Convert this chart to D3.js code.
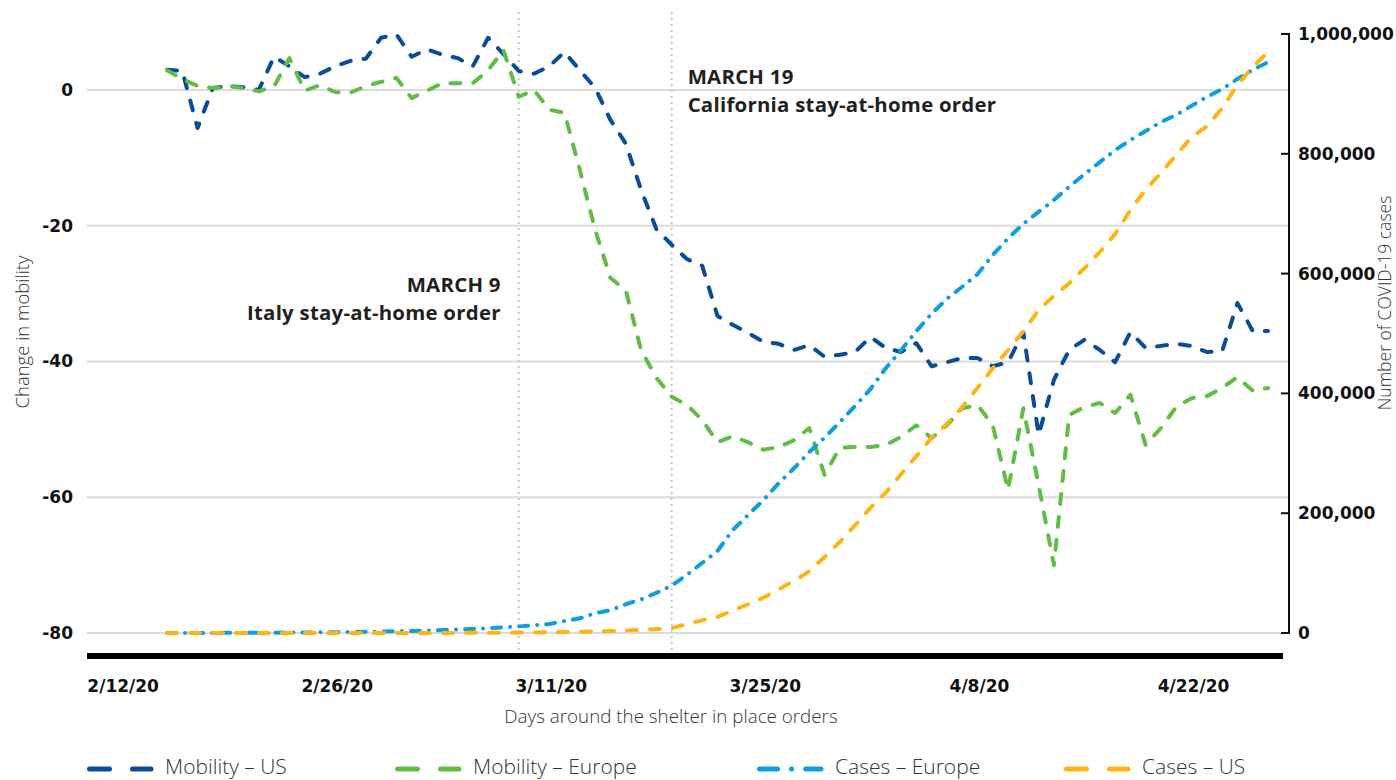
<!DOCTYPE html>
<html><head><meta charset="utf-8">
<script src="https://cdn.jsdelivr.net/npm/d3@7"></script>
<style>
html,body{margin:0;padding:0;background:#fff;}
svg{display:block;}
</style></head>
<body>
<svg id="chart" width="1396" height="780"></svg>
<script>
// ---------- data ----------
const startDate = "2020-02-15";
const endDate = "2020-04-27";
const xTickDates = ["2020-02-12","2020-02-26","2020-03-11","2020-03-25","2020-04-08","2020-04-22"];
const xTickLabels = ["2/12/20","2/26/20","3/11/20","3/25/20","4/8/20","4/22/20"];
const leftTicks = [0,-20,-40,-60,-80];
const rightTicks = [0,200000,400000,600000,800000,1000000];
const rightTickLabels = ["0","200,000","400,000","600,000","800,000","1,000,000"];
const eventDates = ["2020-03-09","2020-03-19"];
const eventTitles = ["MARCH 9","MARCH 19"];
const eventTexts = ["Italy stay-at-home order","California stay-at-home order"];
const seriesNames = ["Mobility \u2013 US","Mobility \u2013 Europe","Cases \u2013 Europe","Cases \u2013 US"];

const mobilityUS = [3.0,2.8,-5.6,0.3,0.6,0.4,0.0,4.9,3.5,1.9,
  2.4,3.5,4.3,4.6,7.7,8.2,4.9,6.0,5.2,4.7,
  3.5,7.7,5.3,2.8,2.4,3.5,5.6,2.9,0.3,-4.4,
  -7.9,-14.7,-20.5,-22.8,-24.9,-25.9,-33.3,-34.6,-35.8,-37.1,
  -37.4,-38.3,-37.6,-39.3,-39.0,-38.6,-36.4,-38.0,-38.6,-37.3,
  -40.7,-40.1,-39.5,-39.5,-40.7,-40.1,-35.7,-50.8,-42.7,-38.3,
  -36.8,-38.3,-40.1,-35.7,-38.0,-37.7,-37.4,-37.7,-38.6,-38.5,
  -31.4,-35.5,-35.5];

const mobilityEurope = [2.9,1.6,0.6,0.3,0.6,0.3,-0.2,0.5,4.7,-0.1,
  0.7,-0.3,-0.4,0.6,1.2,1.8,-1.2,-0.1,1.0,1.0,
  1.0,2.9,5.9,-1.0,0.0,-2.9,-3.4,-11.8,-20.6,-27.7,
  -29.5,-38.3,-42.4,-45.2,-46.4,-48.6,-51.9,-51.0,-51.9,-53.0,
  -52.6,-51.6,-49.8,-56.7,-52.7,-52.6,-52.6,-52.3,-51.1,-49.4,
  -51.3,-49.4,-46.9,-46.4,-49.4,-58.9,-46.9,-58.2,-70.0,-47.9,
  -46.7,-46.1,-47.6,-44.9,-52.3,-49.8,-46.7,-45.4,-45.1,-43.9,
  -42.3,-44.3,-43.9];

const casesEurope = [200,200,200,200,250,300,400,500,700,900,
  1100,1300,1600,2000,2500,3000,3500,4200,5000,5800,
  6800,8000,9500,11000,13000,15000,20000,24500,33000,38000,
  48000,56000,67000,79000,97000,117000,137000,172000,197000,222000,
  250000,275000,302000,326000,352000,379000,407000,442000,472000,504000,
  533000,558000,578000,599000,631000,659000,683000,703000,723000,745000,
  766000,786000,806000,823000,838000,853000,865000,880000,895000,908000,
  925000,940000,953000];

const casesUS = [15,15,15,15,15,15,15,15,20,25,
  30,40,50,60,70,75,90,120,170,220,
  300,400,500,700,900,1200,1600,2100,2700,3300,
  4200,5300,6500,8000,15000,21000,27000,37500,48000,59000,
  73000,87000,103000,127000,152000,180000,209000,234000,265000,295000,
  326000,349000,377000,409000,442000,472000,504000,539000,563000,584000,
  609000,636000,666000,706000,740000,768000,798000,828000,846000,876000,
  915000,945000,970000];

// ---------- setup ----------
const parse = d3.utcParse("%Y-%m-%d");
const dates = d3.utcDay.range(parse(startDate), d3.utcDay.offset(parse(endDate), 1));

const svg = d3.select("#chart");
const plotL = 87, plotR = 1289, plotTop = 34, plotBottom = 633;

const x = d3.scaleUtc().domain([parse(startDate), parse(endDate)]).range([167, 1268]);
const yL = d3.scaleLinear().domain([-80, 8.25]).range([plotBottom, plotTop]);
const yR = d3.scaleLinear().domain([0, 1000000]).range([plotBottom, plotTop]);

const boldFont = "'DejaVu Sans', Verdana, sans-serif";
const textFont = "'Open Sans', 'Noto Sans', sans-serif";

// gridlines
svg.append("g").selectAll("line").data(leftTicks).join("line")
  .attr("x1", plotL).attr("x2", plotR)
  .attr("y1", d => yL(d)).attr("y2", d => yL(d))
  .attr("stroke", "#dcdcdc").attr("stroke-width", 2);

// left tick labels
svg.append("g").selectAll("text").data(leftTicks).join("text")
  .attr("x", 73).attr("y", d => yL(d) + 6)
  .attr("text-anchor", "end")
  .attr("font-family", boldFont).attr("font-weight", "bold").attr("font-size", 17)
  .attr("fill", "#111")
  .text(d => d);

// right axis
svg.append("line").attr("x1", plotR).attr("x2", plotR)
  .attr("y1", yR(1000000) - 1).attr("y2", yR(0) + 1)
  .attr("stroke", "#111").attr("stroke-width", 2);
svg.append("g").selectAll("line").data(rightTicks).join("line")
  .attr("x1", plotR - 8).attr("x2", plotR)
  .attr("y1", d => yR(d)).attr("y2", d => yR(d))
  .attr("stroke", "#111").attr("stroke-width", 2);
svg.append("g").selectAll("text").data(rightTicks).join("text")
  .attr("x", 1298).attr("y", d => yR(d) + 6)
  .attr("font-family", boldFont).attr("font-weight", "bold").attr("font-size", 17)
  .attr("fill", "#111")
  .text((d, i) => rightTickLabels[i]);

// bottom bar
svg.append("rect").attr("x", plotL).attr("y", 653).attr("width", 1283 - plotL).attr("height", 6)
  .attr("fill", "#000");

// x tick labels
svg.append("g").selectAll("text").data(xTickDates).join("text")
  .attr("x", d => x(parse(d)) + 2).attr("y", 692)
  .attr("text-anchor", "middle")
  .attr("font-family", boldFont).attr("font-weight", "bold").attr("font-size", 17)
  .attr("fill", "#111")
  .text((d, i) => xTickLabels[i]);

// event dotted lines
svg.append("g").selectAll("line").data(eventDates).join("line")
  .attr("x1", d => x(parse(d))).attr("x2", d => x(parse(d)))
  .attr("y1", 12).attr("y2", 652)
  .attr("stroke", "#c9c9c9").attr("stroke-width", 2).attr("stroke-dasharray", "2,4");

// annotations
const ann = svg.append("g").attr("font-family", textFont).attr("font-weight", 700)
  .attr("font-size", 20.4).attr("letter-spacing", 0.25).attr("fill", "#231f20");
const annPos = [
  {x: x(parse(eventDates[0])) - 18, y: 291.5, anchor: "end"},
  {x: x(parse(eventDates[1])) + 16, y: 83.5, anchor: "start"}
];
annPos.forEach((p, i) => {
  ann.append("text").attr("x", p.x).attr("y", p.y).attr("text-anchor", p.anchor).text(eventTitles[i]);
  ann.append("text").attr("x", p.x).attr("y", p.y + 28.2).attr("text-anchor", p.anchor).text(eventTexts[i]);
});

// series
const colors = ["#0a4c98", "#62bd46", "#0f9fdc", "#fdb515"];
const dashes = ["10,13", "10,13", "9,9,0.1,9", "10,13"];
const seriesData = [mobilityUS, mobilityEurope, casesEurope, casesUS];
const seriesScale = [yL, yL, yR, yR];

seriesData.forEach((vals, k) => {
  const line = d3.line().x((d, i) => x(dates[i])).y(d => seriesScale[k](d));
  svg.append("path").datum(vals)
    .attr("d", line)
    .attr("fill", "none")
    .attr("stroke", colors[k]).attr("stroke-width", 4)
    .attr("stroke-linecap", "round").attr("stroke-linejoin", "round")
    .attr("stroke-dasharray", dashes[k]);
});

// axis titles
svg.append("text").attr("transform", "translate(29,332) rotate(-90)")
  .attr("text-anchor", "middle").attr("font-family", textFont).attr("font-weight", 300)
  .attr("font-size", 18.5).attr("fill", "#333").text("Change in mobility");
svg.append("text").attr("transform", "translate(1391,303) rotate(-90)")
  .attr("text-anchor", "middle").attr("font-family", textFont).attr("font-weight", 300)
  .attr("font-size", 17.5).attr("fill", "#333").text("Number of COVID-19 cases");
svg.append("text").attr("x", 671).attr("y", 723)
  .attr("text-anchor", "middle").attr("font-family", textFont).attr("font-weight", 300)
  .attr("font-size", 18.8).attr("fill", "#333").text("Days around the shelter in place orders");

// legend
const legendX = [87, 395, 757, 1064];
const legendDash = ["20,23", "20,23", "18,14,0.1,14", "20,23"];
const leg = svg.append("g");
seriesNames.forEach((name, k) => {
  leg.append("line").attr("x1", legendX[k] + 2.5).attr("x2", legendX[k] + 64)
    .attr("y1", 769).attr("y2", 769)
    .attr("stroke", colors[k]).attr("stroke-width", 5).attr("stroke-linecap", "round")
    .attr("stroke-dasharray", legendDash[k]);
  leg.append("text").attr("x", legendX[k] + 78).attr("y", 774)
    .attr("font-family", textFont).attr("font-weight", 300).attr("font-size", 21)
    .attr("fill", "#333").text(name);
});
</script>
</body></html>
